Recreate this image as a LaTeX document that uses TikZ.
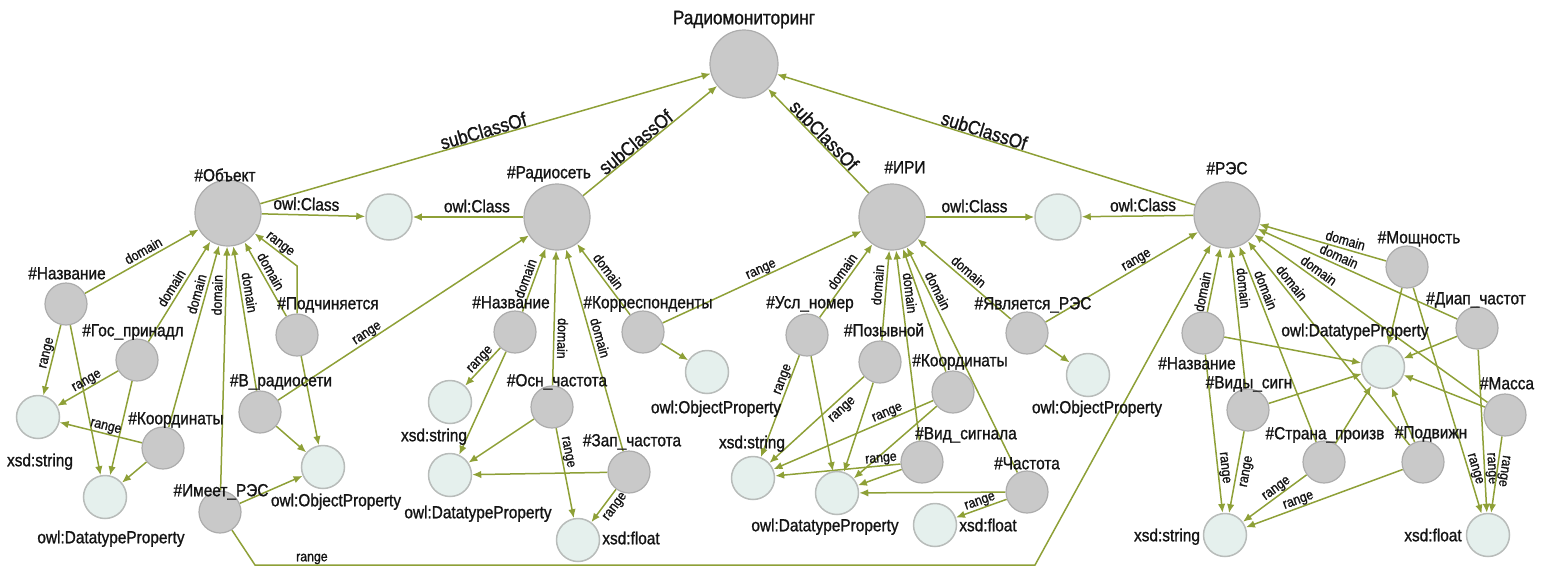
\documentclass[tikz,border=0pt]{standalone}
\usepackage{fontspec}
\setmainfont{Liberation Sans}[FakeStretch=0.88, FakeBold=1.1]
\usetikzlibrary{arrows.meta}
\definecolor{edgecol}{RGB}{142,160,55}
\definecolor{grayfill}{RGB}{201,201,201}
\definecolor{grayline}{RGB}{172,172,172}
\definecolor{litfill}{RGB}{229,240,237}
\definecolor{litline}{RGB}{184,188,186}
\definecolor{txtcol}{RGB}{20,20,20}
\pgfdeclarelayer{background}
\pgfsetlayers{background,main}
\tikzset{
  rootnode/.style={circle, draw=grayline, fill=grayfill, line width=1.2pt, minimum size=68pt, inner sep=0pt},
  bignode/.style={circle, draw=grayline, fill=grayfill, line width=1.2pt, minimum size=66pt, inner sep=0pt},
  propnode/.style={circle, draw=grayline, fill=grayfill, line width=1.2pt, minimum size=42pt, inner sep=0pt},
  litnode/.style={circle, draw=litline, fill=litfill, line width=1.5pt, minimum size=43pt, inner sep=0pt},
  clsnode/.style={litnode, minimum size=46pt},
  ntext/.style={font=\fontsize{17.5}{20}\selectfont, text=txtcol, inner sep=0pt, text height=12.5pt, text depth=0pt},
  link/.style={draw=edgecol, line width=1.5pt, -{Latex[length=9pt,width=7.5pt]}},
  linkrev/.style={draw=edgecol, line width=1.5pt, {Latex[length=9pt,width=7.5pt]}-},
  elab/.style={font=\fontsize{14}{16}\selectfont, text=txtcol, sloped, inner sep=2pt, text height=10pt, text depth=1pt},
  clab/.style={font=\fontsize{17.5}{19}\selectfont, text=txtcol, sloped, inner sep=4pt, text height=12.5pt, text depth=0pt},
  sublab/.style={font=\fontsize{19.5}{21}\selectfont, text=txtcol, sloped, inner sep=0.5pt, text height=14pt, text depth=0pt},
}
\begin{document}
\begin{tikzpicture}[x=1pt, y=-1pt]
\useasboundingbox (0,0) rectangle (1545,568);

% ---------- class nodes ----------
\node[rootnode] (root) at (744,64) {};
\node[bignode] (obj) at (228,213) {};
\node[bignode] (net) at (557,217) {};
\node[bignode] (iri) at (892,217) {};
\node[bignode] (res) at (1227,215) {};
\node[clsnode] (oc1) at (389,217) {};
\node[clsnode] (oc2) at (1058,217) {};

\node[ntext, font=\fontsize{19.5}{22}\selectfont] (t-root) at (744,18) {Радиомониторинг};
\node[ntext] (t-obj) at (225,175) {\#Объект};
\node[ntext] (t-net) at (549,172) {\#Радиосеть};
\node[ntext] (t-iri) at (905,167) {\#ИРИ};
\node[ntext] (t-res) at (1227,168) {\#РЭС};

% ---------- properties of #Объект ----------
\node[propnode] (n1) at (66,304) {};
\node[propnode] (g1) at (137,360) {};
\node[propnode] (k1) at (163,448) {};
\node[propnode] (p1) at (297,335) {};
\node[propnode] (b1) at (260,412) {};
\node[propnode] (i1) at (220,512) {};
\node[litnode] (s1) at (38,417) {};
\node[litnode] (d1) at (105,497) {};
\node[litnode] (o1) at (323,467) {};
\node[ntext] at (67,273) {\#Название};
\node[ntext] at (133,330) {\#Гос\_принадл};
\node[ntext] at (176,418) {\#Координаты};
\node[ntext] at (328,303) {\#Подчиняется};
\node[ntext] at (281,380) {\#В\_радиосети};
\node[ntext] at (221,490) {\#Имеет\_РЭС};
\node[ntext] at (40,460) {xsd:string};
\node[ntext] at (111,537) {owl:DatatypeProperty};
\node[ntext] at (336,500) {owl:ObjectProperty};

% ---------- properties of #Радиосеть ----------
\node[propnode] (n2) at (515,332) {};
\node[propnode] (c2) at (643,332) {};
\node[litnode] (op2) at (707,372) {};
\node[litnode] (s2) at (450,402) {};
\node[propnode] (f2) at (552,407) {};
\node[litnode] (d2) at (450,475) {};
\node[propnode] (z2) at (629,472) {};
\node[litnode] (fl2) at (578,540) {};
\node[ntext] at (511,302) {\#Название};
\node[ntext] at (648,302) {\#Корреспонденты};
\node[ntext] at (716,407) {owl:ObjectProperty};
\node[ntext] at (434,435) {xsd:string};
\node[ntext] at (557,380) {\#Осн\_частота};
\node[ntext] at (478,512) {owl:DatatypeProperty};
\node[ntext] at (632,440) {\#Зап\_частота};
\node[ntext] at (631,538) {xsd:float};

% ---------- properties of #ИРИ ----------
\node[propnode] (u3) at (807,335) {};
\node[propnode] (pz3) at (880,362) {};
\node[propnode] (k3) at (953,392) {};
\node[propnode] (v3) at (922,462) {};
\node[propnode] (ch3) at (1027,492) {};
\node[propnode] (ya3) at (1027,333) {};
\node[litnode] (op3) at (1088,375) {};
\node[litnode] (s3) at (753,478) {};
\node[litnode] (d3) at (837,493) {};
\node[litnode] (fl3) at (935,525) {};
\node[ntext] at (810,302) {\#Усл\_номер};
\node[ntext] at (884,330) {\#Позывной};
\node[ntext] at (960,360) {\#Координаты};
\node[ntext] at (966,433) {\#Вид\_сигнала};
\node[ntext] at (1027,463) {\#Частота};
\node[ntext] at (1033,303) {\#Является\_РЭС};
\node[ntext] at (1097,407) {owl:ObjectProperty};
\node[ntext] at (752,442) {xsd:string};
\node[ntext] at (825,525) {owl:DatatypeProperty};
\node[ntext] at (988,525) {xsd:float};

% ---------- properties of #РЭС ----------
\node[propnode] (m4) at (1407,267) {};
\node[propnode] (dp4) at (1477,328) {};
\node[propnode] (n4) at (1203,333) {};
\node[litnode] (dt4) at (1383,367) {};
\node[propnode] (vs4) at (1248,410) {};
\node[propnode] (ms4) at (1505,415) {};
\node[propnode] (sp4) at (1324,462) {};
\node[propnode] (pd4) at (1423,462) {};
\node[litnode] (s4) at (1225,535) {};
\node[litnode] (fl4) at (1488,535) {};
\node[ntext] at (1419,237) {\#Мощность};
\node[ntext] at (1476,298) {\#Диап\_частот};
\node[ntext] at (1197,363) {\#Название};
\node[ntext] at (1355,330) {owl:DatatypeProperty};
\node[ntext] at (1249,382) {\#Виды\_сигн};
\node[ntext] at (1507,383) {\#Масса};
\node[ntext] at (1325,433) {\#Страна\_произв};
\node[ntext] at (1431,432) {\#Подвижн};
\node[ntext] at (1167,535) {xsd:string};
\node[ntext] at (1433,535) {xsd:float};

% bends of the routed connectors
\coordinate (pbend) at (297,266);
\coordinate (rb1) at (255,565);
\coordinate (rb2) at (1035,565);

\begin{pgfonlayer}{background}
% subclass hierarchy
\draw[link] (obj) -- node[sublab, pos=0.5, above]{subClassOf} (root);
\draw[link] (net) -- node[sublab, pos=0.43, above]{subClassOf} (root);
\draw[link] (iri) -- node[sublab, pos=0.5, above]{subClassOf} (root);
\draw[link] (res) -- node[sublab, pos=0.51, above]{subClassOf} (root);
% owl:Class typing
\draw[link] (obj) -- node[clab, pos=0.43, above]{owl:Class} (oc1);
\draw[link] (net) -- node[clab, pos=0.42, above]{owl:Class} (oc1);
\draw[link] (iri) -- node[clab, pos=0.45, above]{owl:Class} (oc2);
\draw[link] (res) -- node[clab, pos=0.45, above]{owl:Class} (oc2);

% #Объект
\draw[link] (n1) -- node[elab, pos=0.55, above]{domain} (obj);
\draw[link] (g1) -- node[elab, pos=0.49, above]{domain} (obj);
\draw[link] (k1) -- node[elab, pos=0.72, above]{domain} (obj);
\draw[link] (i1) -- node[elab, pos=0.8, above]{domain} (obj);
\draw[link] (b1) -- node[elab, pos=0.67, above]{domain} (obj);
\draw[link] (p1) -- node[elab, pos=0.55, above]{domain} (obj);
\draw[link] (p1.north) -- (pbend) -- node[elab, pos=0.5, above]{range} (obj);
\draw[link] (n1) -- node[elab, pos=0.42, above]{range} (s1);
\draw[link] (n1) -- (d1);
\draw[link] (g1) -- node[elab, pos=0.46, above]{range} (s1);
\draw[link] (g1) -- (d1);
\draw[link] (k1) -- node[elab, pos=0.46, above]{range} (s1);
\draw[link] (k1) -- (d1);
\draw[link] (b1) -- node[elab, pos=0.37, above]{range} (net);
\draw[link] (b1) -- (o1);
\draw[link] (p1) -- (o1);
\draw[link] (i1) -- (o1);
\draw[link] (i1) -- (rb1) -- node[elab, pos=0.073, above]{range} (rb2) -- (res);

% #Радиосеть
\draw[link] (n2) -- node[elab, pos=0.48, above]{domain} (net);
\draw[linkrev] (net) -- node[elab, pos=0.65, above, allow upside down]{domain} (f2);
\draw[link] (z2) -- node[elab, pos=0.55, above]{domain} (net);
\draw[link] (c2) -- node[elab, pos=0.54, above]{domain} (net);
\draw[link] (n2) -- node[elab, pos=0.43, above]{range} (s2);
\draw[link] (n2) -- (d2);
\draw[link] (f2) -- (d2);
\draw[link] (f2) -- node[elab, pos=0.28, above]{range} (fl2);
\draw[link] (z2) -- (d2);
\draw[link] (z2) -- node[elab, pos=0.35, below]{range} (fl2);
\draw[link] (c2) -- node[elab, pos=0.51, above]{range} (iri);
\draw[link] (c2) -- (op2);

% #ИРИ
\draw[link] (u3) -- node[elab, pos=0.56, above]{domain} (iri);
\draw[link] (pz3) -- node[elab, pos=0.61, above]{domain} (iri);
\draw[link] (v3) -- node[elab, pos=0.77, above]{domain} (iri);
\draw[link] (k3) -- (iri);
\draw[link] (ch3) -- node[elab, pos=0.79, above]{domain} (iri);
\draw[link] (ya3) -- node[elab, pos=0.51, above]{domain} (iri);
\draw[link] (u3) -- node[elab, pos=0.26, above]{range} (s3);
\draw[link] (u3) -- (d3);
\draw[link] (pz3) -- node[elab, pos=0.3, below]{range} (s3);
\draw[link] (pz3) -- (d3);
\draw[link] (k3) -- node[elab, pos=0.27, above]{range} (s3);
\draw[link] (k3) -- (d3);
\draw[link] (v3) -- node[elab, pos=0.15, above]{range} (s3);
\draw[link] (v3) -- (d3);
\draw[link] (ch3) -- (d3);
\draw[link] (ch3) -- node[elab, pos=0.48, above]{range} (fl3);
\draw[link] (ya3) -- node[elab, pos=0.62, above]{range} (res);
\draw[link] (ya3) -- (op3);

% #РЭС
\draw[link] (m4) -- node[elab, pos=0.34, above]{domain} (res);
\draw[link] (dp4) -- node[elab, pos=0.61, above]{domain} (res);
\draw[link] (ms4) -- node[elab, pos=0.745, above]{domain} (res);
\draw[link] (n4) -- node[elab, pos=0.29, above]{domain} (res);
\draw[link] (vs4) -- node[elab, pos=0.71, above]{domain} (res);
\draw[link] (sp4) -- node[elab, pos=0.76, above]{domain} (res);
\draw[link] (pd4) -- node[elab, pos=0.77, above]{domain} (res);
\draw[link] (m4) -- (dt4);
\draw[link] (dp4) -- (dt4);
\draw[link] (n4) -- (dt4);
\draw[link] (vs4) -- (dt4);
\draw[link] (sp4) -- (dt4);
\draw[link] (pd4) -- (dt4);
\draw[link] (ms4) -- (dt4);
\draw[link] (n4) -- node[elab, pos=0.72, above]{range} (s4);
\draw[link] (vs4) -- node[elab, pos=0.47, below]{range} (s4);
\draw[link] (sp4) -- node[elab, pos=0.41, above]{range} (s4);
\draw[link] (pd4) -- node[elab, pos=0.65, above]{range} (s4);
\draw[link] (m4) -- node[elab, pos=0.81, above]{range} (fl4);
\draw[link] (dp4) -- node[elab, pos=0.73, above]{range} (fl4);
\draw[link] (ms4) -- node[elab, pos=0.44, above, allow upside down]{range} (fl4);
\end{pgfonlayer}
\end{tikzpicture}
\end{document}
